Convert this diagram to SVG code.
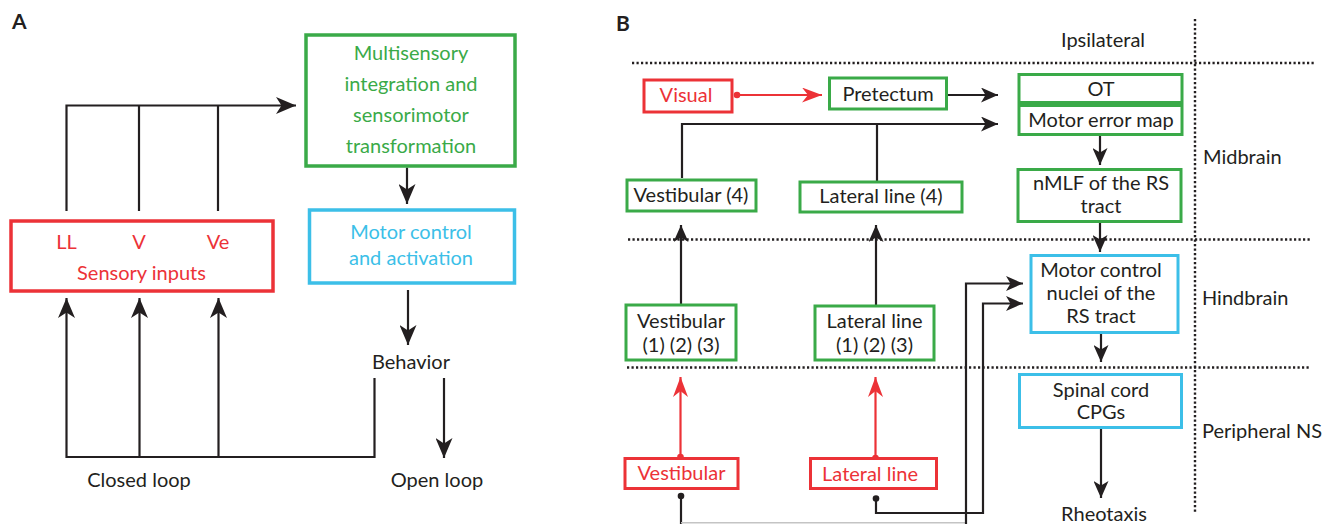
<svg xmlns="http://www.w3.org/2000/svg" width="1331" height="524" viewBox="0 0 1331 524">
<style>
text{font-family:Lato,"Noto Sans","DejaVu Sans",sans-serif;font-size:20px;fill:#231f20}
.c{text-anchor:middle}
.r{fill:#ec3237}
.g{fill:#3aaa48}
.b{fill:#3cbfe8}
.lab{font-weight:bold;font-size:21px}
.bx{fill:#fff;stroke-width:3}
.bxA{fill:#fff;stroke-width:3.5}
.rs{stroke:#ec3237}
.gs{stroke:#3aaa48}
.bs{stroke:#3cbfe8}
.ln{fill:none;stroke:#231f20;stroke-width:2.2}
.rl{fill:none;stroke:#ec3237;stroke-width:2.2}
.dot{fill:none;stroke:#231f20;stroke-width:2.4;stroke-dasharray:2.2 2.3}
</style>
<defs>
<marker id="ah" viewBox="-17 -7.5 17 15" markerWidth="17" markerHeight="15" refX="0" refY="0" orient="auto" markerUnits="userSpaceOnUse"><path d="M0 0 L-17 -7.5 L-12.5 0 L-17 7.5 Z" fill="#231f20"/></marker>
<marker id="ahA" viewBox="-20 -8.5 20 17" markerWidth="20" markerHeight="17" refX="0" refY="0" orient="auto" markerUnits="userSpaceOnUse"><path d="M0 0 L-20 -8.5 L-14.5 0 L-20 8.5 Z" fill="#231f20"/></marker>
<marker id="ahR" viewBox="-20 -7.5 20 15" markerWidth="20" markerHeight="15" refX="0" refY="0" orient="auto" markerUnits="userSpaceOnUse"><path d="M0 0 L-20 -7.5 L-14 0 L-20 7.5 Z" fill="#ec3237"/></marker>
</defs>

<!-- Panel labels -->
<text class="lab" x="12" y="29">A</text>
<text class="lab" x="616" y="31">B</text>

<!-- Region separators (panel B) -->
<g id="regions">
<path class="dot" d="M632 63 H1316"/>
<path class="dot" d="M628 239.5 H1312"/>
<path class="dot" d="M627 367.5 H1311"/>
<path class="dot" d="M1195 19 V512"/>
<text class="c" x="1103" y="47">Ipsilateral</text>
<text x="1203" y="164">Midbrain</text>
<text x="1202" y="305">Hindbrain</text>
<text x="1202" y="438">Peripheral NS</text>
</g>

<!-- Connectors -->
<g id="connectors">
<!-- Panel A -->
<path class="ln" d="M66.5 211 V105.5 H296" marker-end="url(#ahA)"/>
<path class="ln" d="M139 211 V105.5"/>
<path class="ln" d="M218 211 V105.5"/>
<path class="ln" d="M407 167.5 V204" marker-end="url(#ahA)"/>
<path class="ln" d="M408 290 V345" marker-end="url(#ahA)"/>
<path class="ln" d="M374.5 378 V457 H66.5 V298" marker-end="url(#ahA)"/>
<path class="ln" d="M139.5 457 V298" marker-end="url(#ahA)"/>
<path class="ln" d="M218.5 457 V298" marker-end="url(#ahA)"/>
<path class="ln" d="M444 378 V458" marker-end="url(#ahA)"/>
<!-- Panel B -->
<path class="rl" d="M737 95 H822" marker-end="url(#ahR)"/>
<circle cx="737" cy="95" r="3.3" fill="#ec3237"/>
<path class="ln" d="M946.5 95 H998" marker-end="url(#ah)"/>
<path class="ln" d="M682 178 V124 H998" marker-end="url(#ah)"/>
<path class="ln" d="M877 181 V124"/>
<path class="ln" d="M1100 135 V165" marker-end="url(#ah)"/>
<path class="ln" d="M1100 221.5 V252" marker-end="url(#ah)"/>
<path class="ln" d="M1101 332.5 V362" marker-end="url(#ah)"/>
<path class="ln" d="M1101 427.5 V498" marker-end="url(#ah)"/>
<path class="ln" d="M681 305 V225" marker-end="url(#ah)"/>
<path class="ln" d="M876 306 V225" marker-end="url(#ah)"/>
<path class="rl" d="M680.5 457 V377" marker-end="url(#ahR)"/>
<circle cx="680.5" cy="457" r="3.3" fill="#ec3237"/>
<path class="rl" d="M875.5 458 V377" marker-end="url(#ahR)"/>
<circle cx="875.5" cy="458" r="3.3" fill="#ec3237"/>
<path class="ln" d="M681 496 V524"/>
<path d="M681 522.8 H966" fill="none" stroke="#c4c4c4" stroke-width="1.6"/>
<circle cx="681" cy="496" r="3.3" fill="#231f20"/>
<path class="ln" d="M966 524 V283.5 H1023" marker-end="url(#ah)"/>
<path class="ln" d="M876 498.5 V513 H983 V303.5 H1023" marker-end="url(#ah)"/>
<circle cx="876" cy="498.5" r="3.3" fill="#231f20"/>
</g>

<!-- Panel A nodes -->
<g id="multisensory">
<rect class="bxA gs" x="306" y="35" width="209" height="131"/>
<text class="c g" x="411" y="60">Multisensory</text>
<text class="c g" x="411" y="91">integration and</text>
<text class="c g" x="411" y="122">sensorimotor</text>
<text class="c g" x="411" y="153">transformation</text>
</g>
<g id="motor-control-A">
<rect class="bxA bs" x="309.5" y="210" width="205" height="73"/>
<text class="c b" x="411" y="239">Motor control</text>
<text class="c b" x="411" y="265">and activation</text>
</g>
<g id="sensory-inputs">
<rect class="bxA rs" x="11" y="221" width="262" height="70"/>
<text class="c r" x="66.5" y="249">LL</text>
<text class="c r" x="139" y="249">V</text>
<text class="c r" x="218" y="249">Ve</text>
<text class="c r" x="141.5" y="280">Sensory inputs</text>
</g>
<g id="behavior"><text class="c" x="411" y="369">Behavior</text></g>
<g id="closed-loop"><text class="c" x="139" y="487">Closed loop</text></g>
<g id="open-loop"><text class="c" x="437" y="487">Open loop</text></g>

<!-- Panel B nodes -->
<g id="visual">
<rect class="bx rs" x="644" y="80" width="88" height="32"/>
<text class="c r" x="686" y="102">Visual</text>
</g>
<g id="pretectum">
<rect class="bx gs" x="829.5" y="78" width="117" height="31"/>
<text class="c" x="888" y="101">Pretectum</text>
</g>
<g id="ot">
<rect class="bx gs" x="1019" y="74.5" width="163" height="28"/>
<text class="c" x="1101" y="96">OT</text>
</g>
<g id="motor-error-map">
<rect class="bx gs" x="1019" y="105.5" width="163" height="29"/>
<text class="c" x="1101" y="127">Motor error map</text>
</g>
<g id="nmlf">
<rect class="bx gs" x="1018" y="169.5" width="163" height="52"/>
<text class="c" x="1101" y="190">nMLF of the RS</text>
<text class="c" x="1101" y="213">tract</text>
</g>
<g id="vestibular-4">
<rect class="bx gs" x="627" y="180" width="129" height="31"/>
<text class="c" x="691" y="202">Vestibular (4)</text>
</g>
<g id="lateral-line-4">
<rect class="bx gs" x="800" y="182" width="162" height="30"/>
<text class="c" x="881" y="203">Lateral line (4)</text>
</g>
<g id="motor-control-nuclei">
<rect class="bx bs" x="1031" y="255.5" width="147" height="77"/>
<text class="c" x="1101" y="277">Motor control</text>
<text class="c" x="1101" y="300">nuclei of the</text>
<text class="c" x="1101" y="323">RS tract</text>
</g>
<g id="vestibular-123">
<rect class="bx gs" x="626" y="305" width="110" height="55"/>
<text class="c" x="681" y="328">Vestibular</text>
<text class="c" x="681" y="352">(1) (2) (3)</text>
</g>
<g id="lateral-line-123">
<rect class="bx gs" x="815" y="306" width="119" height="54"/>
<text class="c" x="874.5" y="328">Lateral line</text>
<text class="c" x="874.5" y="352">(1) (2) (3)</text>
</g>
<g id="spinal-cord">
<rect class="bx bs" x="1019.5" y="374.5" width="162" height="53"/>
<text class="c" x="1101" y="397">Spinal cord</text>
<text class="c" x="1101" y="419">CPGs</text>
</g>
<g id="vestibular-sense">
<rect class="bx rs" x="625" y="458.5" width="113" height="30"/>
<text class="c r" x="681.5" y="480">Vestibular</text>
</g>
<g id="lateral-line-sense">
<rect class="bx rs" x="810.5" y="458.5" width="126" height="30"/>
<text class="c r" x="870" y="481">Lateral line</text>
</g>
<g id="rheotaxis"><text class="c" x="1104" y="521">Rheotaxis</text></g>
</svg>
